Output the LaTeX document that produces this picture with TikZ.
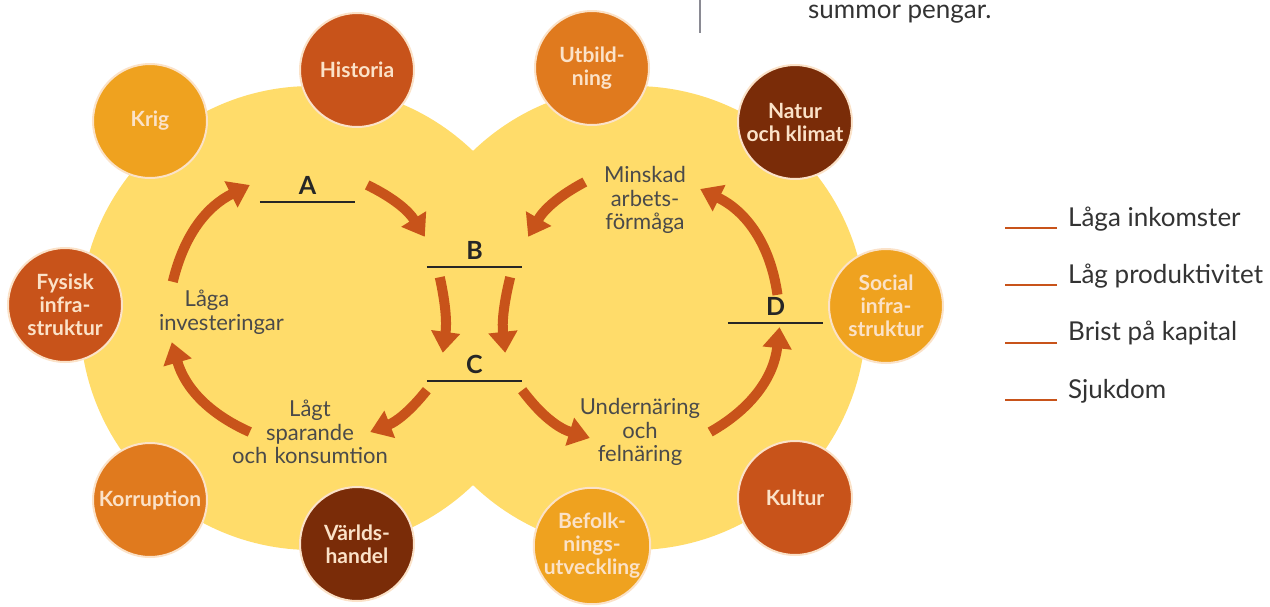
\documentclass[tikz,border=0pt]{standalone}
\usepackage{fontspec}
\setmainfont{Lato}
\usetikzlibrary{arrows.meta}

\definecolor{sun}{HTML}{FFDC6A}
\definecolor{rust}{HTML}{C8531A}
\definecolor{amber}{HTML}{E07A1E}
\definecolor{gold}{HTML}{EFA21F}
\definecolor{umber}{HTML}{7A2C08}
\definecolor{cream}{HTML}{FBE2C8}
\definecolor{ink}{HTML}{4A4A4A}
\definecolor{rule}{HTML}{8A8A93}

\tikzset{
  bubble/.style={circle, draw=cream, line width=2pt, minimum size=114pt, inner sep=0pt,
    align=center, text=cream, font=\fontsize{21}{23}\selectfont\bfseries},
  flow/.style={draw=rust, line width=10pt, -{Triangle[width=28pt,length=21pt]}},
  word/.style={text=ink, align=center, inner sep=2pt, font=\fontsize{22}{23.5}\selectfont},
  stage/.style={minimum width=95pt, minimum height=34pt, inner sep=0pt,
    text=black!85, font=\fontsize{25}{25}\selectfont\bfseries},
  bar/.style={line width=2pt, draw=black!85},
  key/.style={text=black!80, inner sep=0pt, font=\fontsize{26}{30}\selectfont},
  keyline/.style={line width=2pt, draw=rust},
}

\begin{document}
\begin{tikzpicture}[x=1pt,y=-1pt]
	\useasboundingbox (0,0) rectangle (1270,606);
	\fill[white] (0,0) rectangle (1270,606);
	
	% the two yellow discs
	\fill[sun] (312,318) circle[radius=232];
	\fill[sun] (634,318) circle[radius=232];
	
	% stages with their bars
	\node[stage] (A) at (307.5,185) {A};
	\node[stage] (B) at (474.5,250) {B};
	\node[stage] (C) at (474.5,364) {C};
	\node[stage] (D) at (775.5,306) {D};
	\foreach \n in {A,B,C,D}
		\draw[bar] (\n.south west) -- (\n.south east);
	
	% texts of the two cycles
	\node[word, text width=96pt] (inv) at (207,312) {Låga\\investeringar};
	\node[word, text width=160pt] (spa) at (310,432) {Lågt\\sparande\\och konsumtion};
	\node[word, text width=90pt] (min) at (645,200) {Minskad\\arbets-\\förmåga};
	\node[word, text width=124pt] (und) at (640,432) {Undernäring\\och\\felnäring};
	
	% left cycle
	\draw[flow] ([xshift=16pt,yshift=6pt]inv.north west) to[bend left=25] ([xshift=-10pt]A.west);
	\draw[flow] ([xshift=12pt]A.east) to[bend left=16] ([xshift=-2pt,yshift=-4pt]B.north west);
	\draw[flow] ([xshift=13pt,yshift=-10pt]B.south west) to[bend left=10] ([xshift=16pt,yshift=-6pt]C.north west);
	\draw[flow] ([yshift=-9pt]C.south west) to[bend left=15] ([xshift=-22pt]spa.east);
	\draw[flow] ([xshift=22pt]spa.west) to[bend left=25] ([xshift=15pt,yshift=-6pt]inv.south west);
	
	% right cycle
	\draw[flow] ([xshift=-12pt,yshift=-10pt]B.south east) to[bend right=10] ([xshift=-17pt,yshift=-6pt]C.north east);
	\draw[flow] ([yshift=-9pt]C.south east) to[bend right=18] ([xshift=14pt,yshift=-6pt]und.west);
	\draw[flow] ([xshift=6pt]und.east) to[bend right=27] ([xshift=4pt,yshift=-4pt]D.south);
	\draw[flow] ([xshift=2pt,yshift=-6pt]D.north) to[bend right=28] ([xshift=8pt,yshift=11pt]min.east);
	\draw[flow] ([xshift=-13pt,yshift=18pt]min.west) to[bend right=16] ([xshift=6pt,yshift=-4pt]B.north east);
	
	% the causes round the discs
	\foreach \nm/\pos/\col/\txt in {
		hist/{(357,70)}/rust/Historia,
		utb/{(592,68)}/amber/{Utbild-\\ning},
		krig/{(150,121)}/gold/Krig,
		natur/{(795,122)}/umber/{Natur\\och klimat},
		fys/{(65,305)}/rust/{Fysisk\\infra-\\struktur},
		soc/{(886,306)}/gold/{Social\\infra-\\struktur},
		korr/{(150,500)}/amber/Korruption,
		varld/{(357,544)}/umber/{Världs-\\handel},
		bef/{(592,546)}/gold/{Befolk-\\nings-\\utveckling},
		kult/{(795,498)}/rust/Kultur}
		\node[bubble, fill=\col] (\nm) at \pos {\txt};
	
	% legend
	\foreach \i/\txt in {0/Låga inkomster, 1/Låg produktivitet, 2/Brist på kapital, 3/Sjukdom}{
		\node[key, anchor=base west] (k\i) at (1068,{226+57.4*\i}) {\txt};
		\draw[keyline] ([xshift=-11pt,yshift=-2pt]k\i.base west) -- ++(-52,0);
	}
	
	% top of the page
	\draw[line width=2pt, draw=rule] (700,0) -- (700,33);
	\node[key, anchor=base west] (note) at (808,18) {summor pengar.};
\end{tikzpicture}
\end{document}
